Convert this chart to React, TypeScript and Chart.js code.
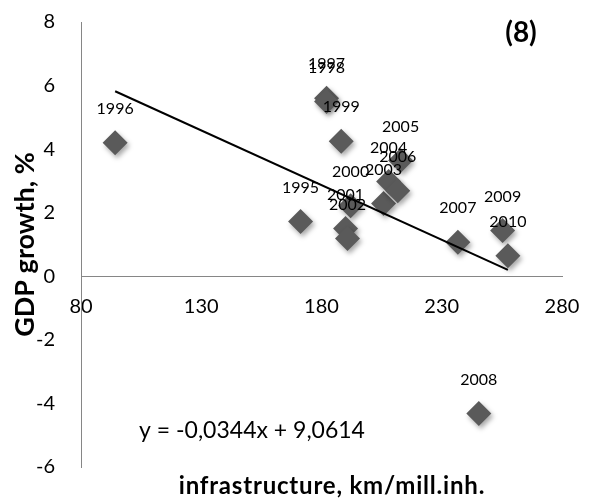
import React, { useEffect, useRef } from "react";
import { Chart, registerables } from "chart.js";

Chart.register(...registerables);

const years = ["1995","1996","1997","1998","1999","2000","2001","2002","2003","2004","2005","2006","2007","2008","2009","2010"];
const infraValues = [171.3, 94.2, 182.1, 182.1, 188.2, 192.1, 190.0, 190.8, 205.8, 207.9, 212.9, 211.7, 236.7, 245.4, 255.3, 257.5];
const gdpValues = [1.72, 4.2, 5.6, 5.5, 4.25, 2.22, 1.5, 1.19, 2.29, 2.98, 3.64, 2.69, 1.07, -4.32, 1.44, 0.65];

const trendSlope = -0.0344;
const trendIntercept = 9.0614;
const equationText = "y = -0,0344x + 9,0614";
const panelLabel = "(8)";
const xTitle = "infrastructure, km/mill.inh.";
const yTitle = "GDP growth, %";

const FONT = "Lato, 'Open Sans', sans-serif";

export default function App() {
  const ref = useRef<HTMLCanvasElement | null>(null);

  useEffect(() => {
    if (!ref.current) return;
    const xMin = Math.min(...infraValues);
    const xMax = Math.max(...infraValues);
    const trend = [
      { x: xMin, y: trendSlope * xMin + trendIntercept },
      { x: xMax, y: trendSlope * xMax + trendIntercept },
    ];
    const points = infraValues.map((x, i) => ({ x, y: gdpValues[i] }));

    const shadowPlugin = {
      id: "shadowPlugin",
      beforeDatasetDraw(chart: any, args: any) {
        if (args.index === 1) {
          const ctx = chart.ctx;
          ctx.save();
          ctx.shadowColor = "rgba(0,0,0,0.35)";
          ctx.shadowBlur = 5;
          ctx.shadowOffsetX = 2;
          ctx.shadowOffsetY = 3;
        }
      },
      afterDatasetDraw(chart: any, args: any) {
        if (args.index === 1) chart.ctx.restore();
      },
    };

    const textPlugin = {
      id: "textPlugin",
      afterDatasetsDraw(chart: any) {
        const ctx = chart.ctx;
        const meta = chart.getDatasetMeta(1);
        ctx.save();
        ctx.fillStyle = "#000";
        ctx.textAlign = "center";
        ctx.textBaseline = "middle";
        ctx.font = `16px ${FONT}`;
        meta.data.forEach((pt: any, i: number) => {
          ctx.fillText(years[i], pt.x, pt.y - 34);
        });
        ctx.font = `23px ${FONT}`;
        ctx.fillText(equationText, 252, 431);
        ctx.font = `bold 28px ${FONT}`;
        ctx.fillText(panelLabel, 521, 33);
        ctx.font = `bold 24px ${FONT}`;
        try { (ctx as any).letterSpacing = "0.8px"; } catch (e) {}
        ctx.fillText(xTitle, 332, 486);
        ctx.restore();
      },
    };

    const zeroPadding = (scale: any) => {
      scale.paddingTop = 0;
      scale.paddingBottom = 0;
      scale.paddingLeft = 0;
      scale.paddingRight = 0;
    };

    const chart = new Chart(ref.current, {
      type: "scatter",
      data: {
        datasets: [
          {
            type: "line",
            data: trend,
            borderColor: "#000",
            borderWidth: 2,
            pointRadius: 0,
            fill: false,
            order: 0,
          } as any,
          {
            type: "scatter",
            data: points,
            pointStyle: "rectRot",
            pointRadius: 12.5,
            backgroundColor: "#5a5a5a",
            borderColor: "#5a5a5a",
            borderWidth: 0,
            order: 1,
            clip: false,
          } as any,
        ],
      },
      options: {
        animation: false,
        responsive: false,
        maintainAspectRatio: false,
        layout: { padding: { top: 22, bottom: 32, right: 43, left: 0 } },
        plugins: {
          legend: { display: false },
          tooltip: { enabled: false },
        },
        scales: {
          x: {
            type: "linear",
            position: { y: 0 } as any,
            min: 80,
            max: 280,
            ticks: {
              stepSize: 50,
              color: "#000",
              font: { family: FONT, size: 20 },
              padding: 18,
            },
            grid: { display: false, drawTicks: false },
            border: { display: true, color: "#868686", width: 1 },
            afterFit: zeroPadding,
          },
          y: {
            type: "linear",
            position: "left",
            min: -6,
            max: 8,
            ticks: {
              stepSize: 2,
              color: "#000",
              font: { family: FONT, size: 20 },
              padding: 26,
            },
            grid: { display: false, drawTicks: false },
            border: { display: true, color: "#868686", width: 1 },
            title: {
              display: true,
              text: yTitle,
              color: "#000",
              font: { family: FONT, size: 27, weight: "bold" },
              padding: { top: 9, bottom: 0 },
            },
            afterFit(scale: any) {
              scale.width = 81;
              zeroPadding(scale);
            },
          },
        },
      },
      plugins: [shadowPlugin, textPlugin],
    } as any);

    return () => chart.destroy();
  }, []);

  return (
    <div style={{ position: "absolute", left: 0, top: 0, width: 605, height: 499, background: "#fff" }}>
      <canvas ref={ref} width={605} height={499} />
    </div>
  );
}
